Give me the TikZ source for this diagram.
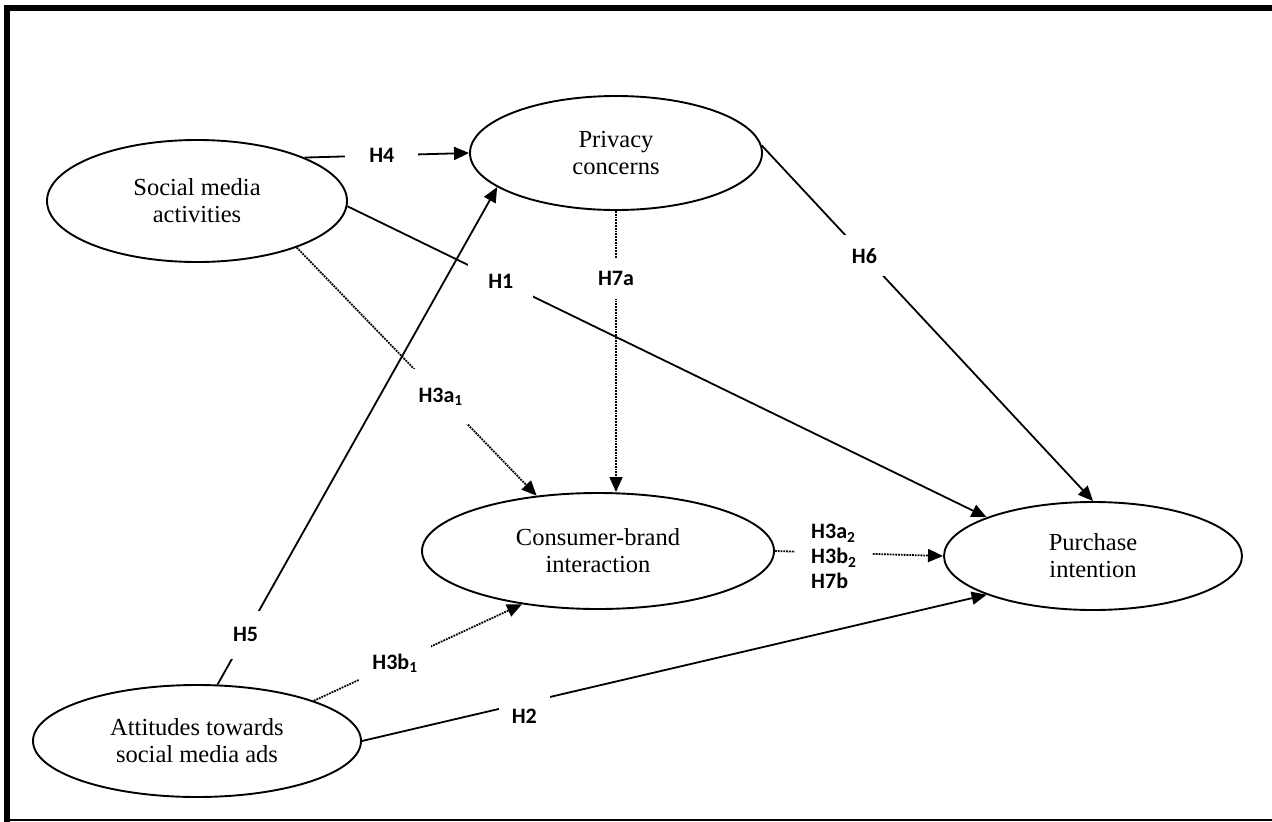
\documentclass[tikz,border=0pt]{standalone}
\usepackage{fontspec}
\setmainfont{Liberation Serif}
\newfontfamily\hypfont{Carlito}
\usetikzlibrary{shapes.geometric,arrows.meta}

\begin{document}
\begin{tikzpicture}[x=1pt,y=-1pt,
construct/.style={ellipse, draw, line width=1.9pt, inner sep=0pt, align=center,
  font=\fontsize{24.5}{27}\selectfont},
hyp/.style={fill=white, inner xsep=13pt, inner ysep=13pt,
  font=\hypfont\bfseries\fontsize{22}{25}\selectfont},
effect/.style={line width=1.8pt, -{Triangle[length=15pt,width=13pt]}},
mediated/.style={effect, densely dotted}
  ]
  \useasboundingbox (0,0) rectangle (1272,822);
  \draw[line width=6pt] (7,822) -- (7,8) -- (1272,8);
  \draw[line width=1.5pt] (7,820) -- (1272,820);

  \node[construct, minimum width=300pt, minimum height=122pt] (sma) at (197,201) {Social media\\activities};
  \node[construct, minimum width=292pt, minimum height=114pt] (pc) at (616,153) {Privacy\\concerns};
  \node[construct, minimum width=352pt, minimum height=116pt] (cbi) at (598,551) {Consumer-brand\\interaction};
  \node[construct, minimum width=298pt, minimum height=108pt] (pi) at (1093,556) {Purchase\\intention};
  \node[construct, minimum width=328pt, minimum height=112pt] (atsa) at (197,741) {Attitudes towards\\social media ads};

  \draw[effect] (sma.22) -- node[hyp, pos=0.47, inner xsep=24pt] {H4} (pc.west);
  \draw[effect] (sma.-2) -- node[hyp, pos=0.24, inner xsep=20pt] {H1} (pi.160);
  \draw[effect] (atsa.70) -- node[hyp, pos=0.1, inner ysep=17pt] {H5} (pc.196);
  \draw[effect] (pc.3) -- node[hyp, pos=0.31] {H6} (pi.north);
  \draw[effect] (atsa.east) -- node[hyp, pos=0.26, yshift=-13pt] {H2} (pi.200);
  \draw[mediated] (pc.south) -- node[hyp, pos=0.24] {H7a} (pc.south |- cbi.north);
  \draw[mediated] (sma.-25) -- node[hyp, pos=0.6, inner ysep=19pt] {H3a\textsubscript{1}} (cbi.138);
  \draw[mediated] (atsa.19) -- node[hyp, pos=0.39] {H3b\textsubscript{1}} (cbi.215);
  \draw[mediated] (cbi.east) -- node[hyp, pos=0.35, yshift=-4pt, align=left, inner xsep=16pt] {H3a\textsubscript{2}\\H3b\textsubscript{2}\\H7b} (pi.west);
\end{tikzpicture}
\end{document}
